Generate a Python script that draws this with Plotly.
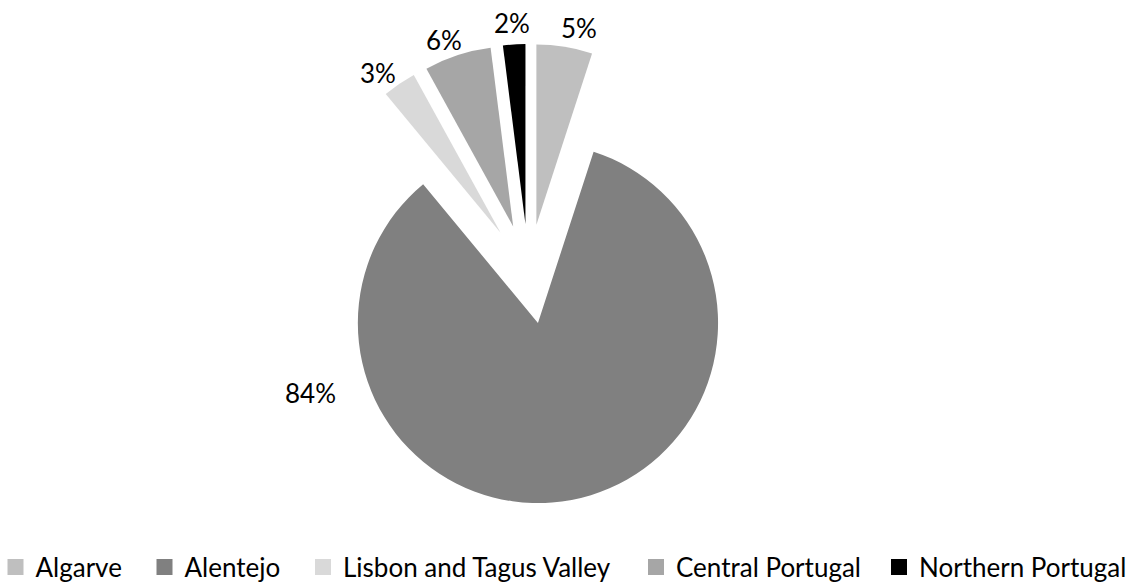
import plotly.graph_objects as go

# ---- data ----
regions = ["Algarve", "Alentejo", "Lisbon and Tagus Valley", "Central Portugal", "Northern Portugal"]
shares = [5, 84, 3, 6, 2]
colors = ["#BFBFBF", "#808080", "#D9D9D9", "#A6A6A6", "#000000"]

# ---- layout constants (pixels, in screenshot coordinates) ----
W, H = 1128, 584
OFF = 0  # page body margin is removed by the post script below
ML, MR, MT, MB = 0, 0, 0, 0
PW, PH = W - ML - MR, H - MT - MB
PULL = 0.277
PIE_CX, PIE_TOP, PIE_BOTTOM = 528.6, 44, 504
PIE_HALF_W = 282
# label centres for each slice's percentage text
label_px = [579, 310.5, 378, 444, 512]
label_py = [28.5, 393.5, 73.5, 40, 22.5]
# legend entry square centres
legend_px = [18, 167, 325.5, 658.5, 901.5]
legend_py = 567
FONT = "Lato"
FS = 26


def px_x(px):
    return (px - OFF - ML) / PW


def px_y(py):
    return (H - MB - (py - OFF)) / PH


fig = go.Figure()
fig.add_trace(go.Pie(
    labels=regions,
    values=shares,
    sort=False,
    direction="clockwise",
    rotation=0,
    pull=[PULL] * len(shares),
    marker=dict(colors=colors, line=dict(width=0)),
    textinfo="none",
    domain=dict(x=[px_x(PIE_CX - PIE_HALF_W), px_x(PIE_CX + PIE_HALF_W)],
                y=[px_y(PIE_BOTTOM), px_y(PIE_TOP)]),
    hoverinfo="label+percent",
    showlegend=False,
))

total = sum(shares)
for v, lx, ly in zip(shares, label_px, label_py):
    fig.add_annotation(
        text=f"{round(v / total * 100)}%", x=px_x(lx), y=px_y(ly),
        xref="paper", yref="paper", xanchor="center", yanchor="middle",
        showarrow=False, font=dict(family=FONT, size=FS, color="#000000"),
    )

legend_layout = {}
for i, (name, col, lx) in enumerate(zip(regions, colors, legend_px)):
    lid = "legend" if i == 0 else f"legend{i + 1}"
    fig.add_trace(go.Scatter(
        x=[None], y=[None], mode="markers", name=name,
        marker=dict(symbol="square", size=16, color=col, line=dict(width=0)),
        legend=lid, showlegend=True, hoverinfo="skip",
    ))
    legend_layout[lid] = dict(
        orientation="h", x=px_x(lx - 22.5), xanchor="left",
        y=px_y(legend_py), yanchor="middle",
        font=dict(family=FONT, size=FS, color="#000000"),
        bgcolor="rgba(0,0,0,0)", borderwidth=0,
    )

fig.update_layout(
    width=W, height=H,
    margin=dict(l=ML, r=MR, t=MT, b=MB, autoexpand=False),
    paper_bgcolor="white", plot_bgcolor="white",
    font=dict(family=FONT, size=FS, color="#000000"),
    xaxis=dict(visible=False), yaxis=dict(visible=False),
    **legend_layout,
)

fig.write_html(
    "out.html",
    config={"displayModeBar": False},
    post_script="document.body.style.margin='0';document.body.style.overflow='hidden';",
)
